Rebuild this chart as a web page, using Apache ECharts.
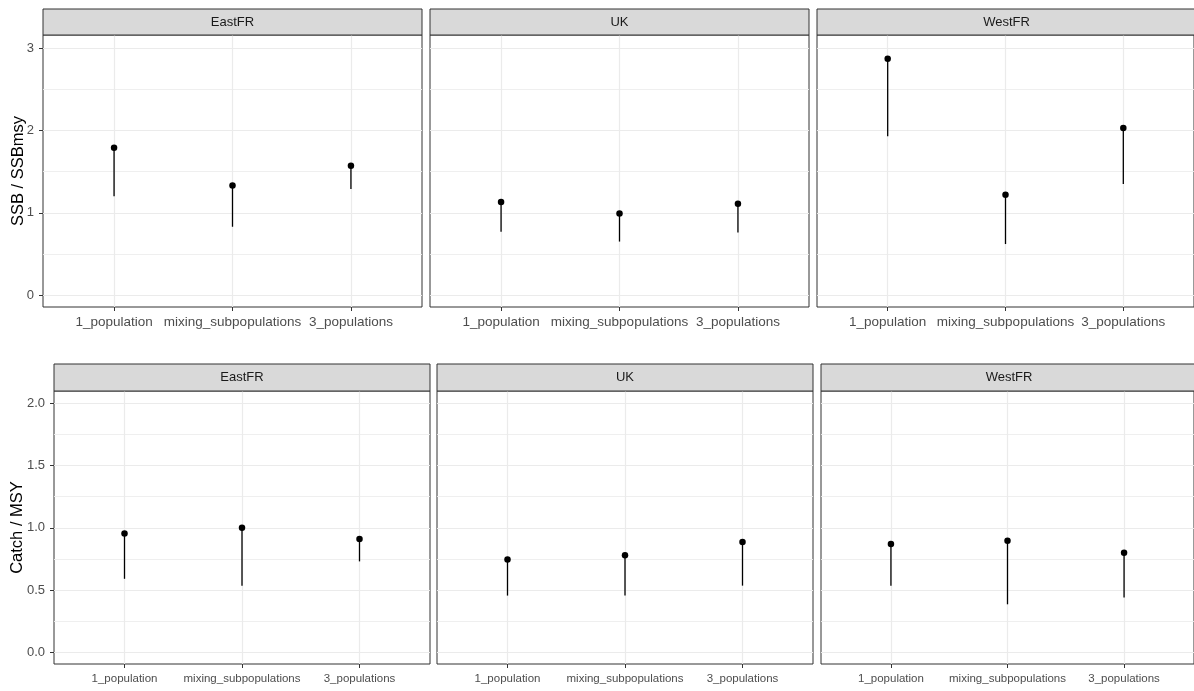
<!DOCTYPE html>
<html><head><meta charset="utf-8">
<script src="https://cdn.jsdelivr.net/npm/echarts@6/dist/echarts.min.js"></script>
<style>html,body{margin:0;padding:0;background:#fff}#c{width:1194px;height:691px}</style>
</head><body><div id="c"></div>
<script>
const regions = ['EastFR', 'UK', 'WestFR'];
const scenarios = ['1_population', 'mixing_subpopulations', '3_populations'];

// SSB / SSBmsy : point value and lower end of the line, per region
const ssbEastFR = [1.79, 1.33, 1.57];
const ssbEastFRLow = [1.20, 0.83, 1.29];
const ssbUK = [1.13, 0.99, 1.11];
const ssbUKLow = [0.77, 0.65, 0.76];
const ssbWestFR = [2.87, 1.22, 2.03];
const ssbWestFRLow = [1.93, 0.62, 1.35];

// Catch / MSY
const catchEastFR = [0.955, 1.00, 0.91];
const catchEastFRLow = [0.59, 0.535, 0.73];
const catchUK = [0.745, 0.78, 0.885];
const catchUKLow = [0.455, 0.455, 0.535];
const catchWestFR = [0.87, 0.895, 0.80];
const catchWestFRLow = [0.535, 0.385, 0.44];

const ssbTicks = [0, 1, 2, 3];
const ssbMinorTicks = [0.5, 1.5, 2.5];
const catchTicks = [0, 0.5, 1, 1.5, 2];
const catchMinorTicks = [0.25, 0.75, 1.25, 1.75];
const xPositions = [1, 2, 3];

const rows = [
  { title: 'SSB / SSBmsy', mids: [ssbEastFR, ssbUK, ssbWestFR], lows: [ssbEastFRLow, ssbUKLow, ssbWestFRLow],
    ticks: ssbTicks, minor: ssbMinorTicks, min: -0.145, max: 3.16, fmt: v => String(v),
    top: 35, height: 272, lefts: [43, 430, 817], width: 379, stripTop: 9, stripH: 26,
    xFont: 13.5, xMargin: 8, nameGap: 16 },
  { title: 'Catch / MSY', mids: [catchEastFR, catchUK, catchWestFR], lows: [catchEastFRLow, catchUKLow, catchWestFRLow],
    ticks: catchTicks, minor: catchMinorTicks, min: -0.095, max: 2.1, fmt: v => v.toFixed(1),
    top: 391, height: 273, lefts: [54, 437, 821], width: 376, stripTop: 364, stripH: 27,
    xFont: 11.5, xMargin: 9, nameGap: 28 }
];

const FONT = '"Liberation Sans", Arial, sans-serif';
const grid = [], xAxis = [], yAxis = [], series = [], graphics = [];
let k = 0;
rows.forEach(row => {
  row.lefts.forEach((left, c) => {
    grid.push({ left: left, top: row.top, width: row.width, height: row.height, show: true,
      borderColor: '#333333', borderWidth: 1, backgroundColor: '#fff', containLabel: false });
    xAxis.push({ type: 'value', gridIndex: k, min: 0.4, max: 3.6, position: 'bottom',
      axisLine: { show: false, onZero: false },
      axisTick: { show: true, inside: false, customValues: xPositions, length: 4, lineStyle: { color: '#333', width: 1 } },
      axisLabel: { show: true, customValues: xPositions, formatter: v => scenarios[Math.round(v) - 1],
        color: '#4d4d4d', fontSize: row.xFont, fontFamily: FONT, margin: row.xMargin },
      splitLine: { show: true, lineStyle: { color: '#ebebeb', width: 1.2 } } });
    const first = c === 0;
    yAxis.push({ type: 'value', gridIndex: k, min: row.min, max: row.max, position: 'left',
      name: first ? row.title : '', nameLocation: 'middle', nameGap: row.nameGap, nameMoveOverlap: false,
      nameTextStyle: { color: '#000', fontSize: 16.5, fontFamily: FONT },
      axisLine: { show: false, onZero: false },
      axisTick: { show: first, inside: false, customValues: row.ticks, length: 4, lineStyle: { color: '#333', width: 1 } },
      axisLabel: { show: first, customValues: row.ticks, formatter: row.fmt, color: '#4d4d4d', fontSize: 13, fontFamily: FONT, margin: 9 },
      splitLine: { show: true, lineStyle: { color: '#ebebeb', width: 1.2 } } });
    yAxis.push({ type: 'value', gridIndex: k, min: row.min, max: row.max, position: 'left',
      axisLine: { show: false, onZero: false },
      axisTick: { show: false, customValues: row.minor },
      axisLabel: { show: false, customValues: row.minor },
      splitLine: { show: true, lineStyle: { color: '#ededed', width: 0.9 } } });
    const mids = row.mids[c], lows = row.lows[c];
    series.push({ type: 'custom', xAxisIndex: k, yAxisIndex: 2 * k, z: 3,
      data: xPositions.map((x, i) => [x, lows[i], mids[i]]),
      encode: { x: 0, y: [1, 2] },
      renderItem: (params, api) => {
        const p1 = api.coord([api.value(0), api.value(1)]);
        const p2 = api.coord([api.value(0), api.value(2)]);
        return { type: 'line', shape: { x1: p1[0], y1: p1[1], x2: p2[0], y2: p2[1] },
          style: { stroke: '#000', lineWidth: 1.3 } };
      } });
    series.push({ type: 'scatter', xAxisIndex: k, yAxisIndex: 2 * k, z: 4, symbol: 'circle', symbolSize: 6.5,
      itemStyle: { color: '#000', opacity: 1 }, silent: true,
      data: xPositions.map((x, i) => [x, mids[i]]) });
    graphics.push({ type: 'rect', z: 10,
      shape: { x: left, y: row.stripTop, width: row.width, height: row.stripH },
      style: { fill: '#d9d9d9', stroke: '#333333', lineWidth: 1 } });
    graphics.push({ type: 'text', z: 11, x: left + row.width / 2, y: row.stripTop + row.stripH / 2,
      style: { text: regions[c], fill: '#1a1a1a', font: '13px ' + FONT, align: 'center', verticalAlign: 'middle' } });
    k++;
  });
});

const chart = echarts.init(document.getElementById('c'), null, { renderer: 'canvas' });
chart.setOption({ animation: false, backgroundColor: '#fff', grid, xAxis, yAxis, series, graphic: graphics });
</script></body></html>
